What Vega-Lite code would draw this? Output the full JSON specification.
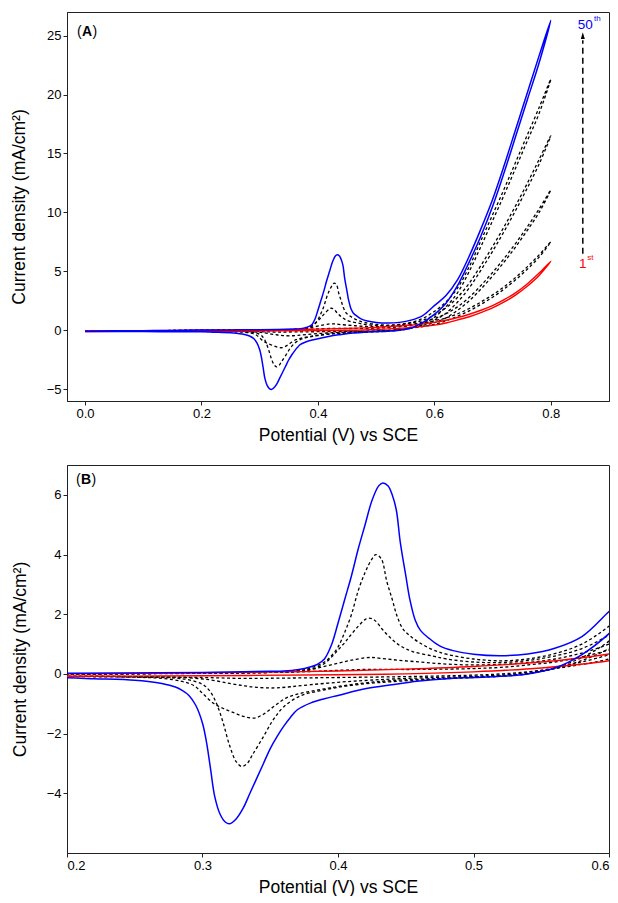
{
"$schema":"https://vega.github.io/schema/vega-lite/v6.json",
"padding":{"left":9,"top":11,"right":0,"bottom":0},
"spacing":20,
"config":{
"font":"Liberation Sans",
"view":{"stroke":"#222222","strokeWidth":1},
"axis":{"grid":false,"domainColor":"#222222","tickColor":"#222222","labelColor":"#000000","titleColor":"#000000","labelFontSize":13,"titleFontSize":17.5,"titleFontWeight":"normal","tickSize":4,"labelPadding":2,"domainWidth":1},
"axisX":{"titlePadding":6}
},
"datasets":{"cv":[
{"c":"b","E":0,"j":-0.08},{"c":"b","E":0.05,"j":-0.05},{"c":"b","E":0.1,"j":-0.03},{"c":"b","E":0.15,"j":-0.01},{"c":"b","E":0.2,"j":0.02},{"c":"b","E":0.25,"j":0.03},{"c":"b","E":0.3,"j":0.05},{"c":"b","E":0.33,"j":0.07},{"c":"b","E":0.35,"j":0.09},{"c":"b","E":0.36,"j":0.1},{"c":"b","E":0.37,"j":0.14},{"c":"b","E":0.38,"j":0.24},{"c":"b","E":0.385,"j":0.33},{"c":"b","E":0.39,"j":0.5},{"c":"b","E":0.395,"j":0.95},{"c":"b","E":0.4,"j":1.7},{"c":"b","E":0.405,"j":2.5},{"c":"b","E":0.41,"j":3.3},{"c":"b","E":0.415,"j":4.2},{"c":"b","E":0.42,"j":5.0},{"c":"b","E":0.425,"j":5.8},{"c":"b","E":0.43,"j":6.3},{"c":"b","E":0.433,"j":6.4},{"c":"b","E":0.437,"j":6.3},{"c":"b","E":0.44,"j":6.0},{"c":"b","E":0.443,"j":5.5},{"c":"b","E":0.446,"j":4.4},{"c":"b","E":0.45,"j":3.3},{"c":"b","E":0.453,"j":2.5},{"c":"b","E":0.457,"j":1.8},{"c":"b","E":0.461,"j":1.45},{"c":"b","E":0.467,"j":1.2},{"c":"b","E":0.475,"j":0.94},{"c":"b","E":0.485,"j":0.78},{"c":"b","E":0.5,"j":0.66},{"c":"b","E":0.52,"j":0.61},{"c":"b","E":0.54,"j":0.67},{"c":"b","E":0.56,"j":0.86},{"c":"b","E":0.58,"j":1.25},{"c":"b","E":0.6,"j":2.09},{"c":"b","E":0.62,"j":2.95},{"c":"b","E":0.64,"j":4.3},{"c":"b","E":0.66,"j":6.3},{"c":"b","E":0.68,"j":8.6},{"c":"b","E":0.7,"j":11.1},{"c":"b","E":0.72,"j":14.0},{"c":"b","E":0.74,"j":17.1},{"c":"b","E":0.76,"j":20.2},{"c":"b","E":0.78,"j":23.3},{"c":"b","E":0.8,"j":26.3},
{"c":"b","E":0.78,"j":22.7},{"c":"b","E":0.76,"j":19.6},{"c":"b","E":0.74,"j":16.5},{"c":"b","E":0.72,"j":13.4},{"c":"b","E":0.7,"j":10.5},{"c":"b","E":0.68,"j":8.0},{"c":"b","E":0.66,"j":5.8},{"c":"b","E":0.64,"j":3.8},{"c":"b","E":0.62,"j":2.3},{"c":"b","E":0.6,"j":1.35},{"c":"b","E":0.58,"j":0.65},{"c":"b","E":0.56,"j":0.2},{"c":"b","E":0.54,"j":0.0},{"c":"b","E":0.52,"j":-0.08},{"c":"b","E":0.5,"j":-0.12},{"c":"b","E":0.48,"j":-0.16},{"c":"b","E":0.46,"j":-0.24},{"c":"b","E":0.44,"j":-0.36},{"c":"b","E":0.42,"j":-0.5},{"c":"b","E":0.4,"j":-0.72},{"c":"b","E":0.39,"j":-0.83},{"c":"b","E":0.38,"j":-0.97},{"c":"b","E":0.37,"j":-1.2},{"c":"b","E":0.365,"j":-1.45},{"c":"b","E":0.36,"j":-1.75},{"c":"b","E":0.355,"j":-2.1},{"c":"b","E":0.35,"j":-2.5},{"c":"b","E":0.345,"j":-3.0},{"c":"b","E":0.34,"j":-3.5},{"c":"b","E":0.335,"j":-4.0},{"c":"b","E":0.33,"j":-4.5},{"c":"b","E":0.325,"j":-4.85},{"c":"b","E":0.32,"j":-5.02},{"c":"b","E":0.317,"j":-4.97},{"c":"b","E":0.313,"j":-4.7},{"c":"b","E":0.309,"j":-4.1},{"c":"b","E":0.306,"j":-3.2},{"c":"b","E":0.303,"j":-2.3},{"c":"b","E":0.3,"j":-1.65},{"c":"b","E":0.295,"j":-1.05},{"c":"b","E":0.29,"j":-0.72},{"c":"b","E":0.285,"j":-0.55},{"c":"b","E":0.28,"j":-0.44},{"c":"b","E":0.27,"j":-0.32},{"c":"b","E":0.26,"j":-0.25},{"c":"b","E":0.25,"j":-0.21},{"c":"b","E":0.22,"j":-0.16},{"c":"b","E":0.2,"j":-0.13},{"c":"b","E":0.15,"j":-0.12},{"c":"b","E":0.1,"j":-0.11},{"c":"b","E":0.05,"j":-0.1},{"c":"b","E":0,"j":-0.1},
{"c":"d4","E":0,"j":-0.08},{"c":"d4","E":0.1,"j":-0.04},{"c":"d4","E":0.2,"j":0.0},{"c":"d4","E":0.3,"j":0.03},{"c":"d4","E":0.35,"j":0.06},{"c":"d4","E":0.37,"j":0.1},{"c":"d4","E":0.38,"j":0.2},{"c":"d4","E":0.39,"j":0.4},{"c":"d4","E":0.395,"j":0.6},{"c":"d4","E":0.4,"j":0.9},{"c":"d4","E":0.405,"j":1.4},{"c":"d4","E":0.41,"j":2.0},{"c":"d4","E":0.415,"j":2.8},{"c":"d4","E":0.42,"j":3.4},{"c":"d4","E":0.425,"j":3.85},{"c":"d4","E":0.428,"j":4.0},{"c":"d4","E":0.432,"j":3.85},{"c":"d4","E":0.436,"j":3.1},{"c":"d4","E":0.44,"j":2.5},{"c":"d4","E":0.4435,"j":1.95},{"c":"d4","E":0.448,"j":1.5},{"c":"d4","E":0.453,"j":1.28},{"c":"d4","E":0.46,"j":1.05},{"c":"d4","E":0.47,"j":0.81},{"c":"d4","E":0.48,"j":0.66},{"c":"d4","E":0.5,"j":0.5},{"c":"d4","E":0.52,"j":0.44},{"c":"d4","E":0.54,"j":0.5},{"c":"d4","E":0.56,"j":0.68},{"c":"d4","E":0.58,"j":1.0},{"c":"d4","E":0.6,"j":1.6},{"c":"d4","E":0.62,"j":2.4},{"c":"d4","E":0.64,"j":3.6},{"c":"d4","E":0.66,"j":5.4},{"c":"d4","E":0.68,"j":7.6},{"c":"d4","E":0.7,"j":9.8},{"c":"d4","E":0.72,"j":12.0},{"c":"d4","E":0.74,"j":14.3},{"c":"d4","E":0.76,"j":16.6},{"c":"d4","E":0.78,"j":18.9},{"c":"d4","E":0.8,"j":21.3},
{"c":"d4","E":0.78,"j":18.4},{"c":"d4","E":0.76,"j":16.1},{"c":"d4","E":0.74,"j":13.8},{"c":"d4","E":0.72,"j":11.5},{"c":"d4","E":0.7,"j":9.3},{"c":"d4","E":0.68,"j":7.1},{"c":"d4","E":0.66,"j":5.0},{"c":"d4","E":0.64,"j":3.2},{"c":"d4","E":0.62,"j":2.0},{"c":"d4","E":0.6,"j":1.1},{"c":"d4","E":0.58,"j":0.55},{"c":"d4","E":0.56,"j":0.2},{"c":"d4","E":0.54,"j":0.0},{"c":"d4","E":0.52,"j":-0.08},{"c":"d4","E":0.5,"j":-0.12},{"c":"d4","E":0.47,"j":-0.18},{"c":"d4","E":0.44,"j":-0.26},{"c":"d4","E":0.42,"j":-0.33},{"c":"d4","E":0.4,"j":-0.45},{"c":"d4","E":0.385,"j":-0.58},{"c":"d4","E":0.372,"j":-0.74},{"c":"d4","E":0.36,"j":-1.1},{"c":"d4","E":0.352,"j":-1.55},{"c":"d4","E":0.345,"j":-2.1},{"c":"d4","E":0.337,"j":-2.7},{"c":"d4","E":0.333,"j":-3.0},{"c":"d4","E":0.329,"j":-3.1},{"c":"d4","E":0.325,"j":-2.95},{"c":"d4","E":0.32,"j":-2.4},{"c":"d4","E":0.315,"j":-1.6},{"c":"d4","E":0.31,"j":-0.95},{"c":"d4","E":0.305,"j":-0.55},{"c":"d4","E":0.3,"j":-0.35},{"c":"d4","E":0.29,"j":-0.2},{"c":"d4","E":0.28,"j":-0.14},{"c":"d4","E":0.25,"j":-0.1},{"c":"d4","E":0.2,"j":-0.08},{"c":"d4","E":0.1,"j":-0.08},{"c":"d4","E":0,"j":-0.08},
{"c":"d3","E":0,"j":-0.08},{"c":"d3","E":0.1,"j":-0.05},{"c":"d3","E":0.2,"j":-0.01},{"c":"d3","E":0.3,"j":0.03},{"c":"d3","E":0.35,"j":0.05},{"c":"d3","E":0.37,"j":0.08},{"c":"d3","E":0.38,"j":0.15},{"c":"d3","E":0.39,"j":0.35},{"c":"d3","E":0.396,"j":0.6},{"c":"d3","E":0.4,"j":0.8},{"c":"d3","E":0.405,"j":1.05},{"c":"d3","E":0.409,"j":1.28},{"c":"d3","E":0.415,"j":1.6},{"c":"d3","E":0.42,"j":1.82},{"c":"d3","E":0.423,"j":1.87},{"c":"d3","E":0.427,"j":1.8},{"c":"d3","E":0.433,"j":1.48},{"c":"d3","E":0.44,"j":1.15},{"c":"d3","E":0.446,"j":0.94},{"c":"d3","E":0.455,"j":0.75},{"c":"d3","E":0.47,"j":0.6},{"c":"d3","E":0.48,"j":0.5},{"c":"d3","E":0.5,"j":0.4},{"c":"d3","E":0.52,"j":0.38},{"c":"d3","E":0.54,"j":0.45},{"c":"d3","E":0.56,"j":0.6},{"c":"d3","E":0.58,"j":0.85},{"c":"d3","E":0.6,"j":1.3},{"c":"d3","E":0.62,"j":1.9},{"c":"d3","E":0.64,"j":2.8},{"c":"d3","E":0.66,"j":4.0},{"c":"d3","E":0.68,"j":5.5},{"c":"d3","E":0.7,"j":7.1},{"c":"d3","E":0.72,"j":8.8},{"c":"d3","E":0.74,"j":10.6},{"c":"d3","E":0.76,"j":12.5},{"c":"d3","E":0.78,"j":14.5},{"c":"d3","E":0.8,"j":16.5},
{"c":"d3","E":0.78,"j":14.1},{"c":"d3","E":0.76,"j":12.1},{"c":"d3","E":0.74,"j":10.2},{"c":"d3","E":0.72,"j":8.4},{"c":"d3","E":0.7,"j":6.7},{"c":"d3","E":0.68,"j":5.1},{"c":"d3","E":0.66,"j":3.6},{"c":"d3","E":0.64,"j":2.4},{"c":"d3","E":0.62,"j":1.45},{"c":"d3","E":0.6,"j":0.85},{"c":"d3","E":0.58,"j":0.45},{"c":"d3","E":0.56,"j":0.18},{"c":"d3","E":0.54,"j":0.02},{"c":"d3","E":0.52,"j":-0.06},{"c":"d3","E":0.5,"j":-0.1},{"c":"d3","E":0.47,"j":-0.16},{"c":"d3","E":0.44,"j":-0.22},{"c":"d3","E":0.42,"j":-0.3},{"c":"d3","E":0.4,"j":-0.42},{"c":"d3","E":0.39,"j":-0.5},{"c":"d3","E":0.38,"j":-0.58},{"c":"d3","E":0.37,"j":-0.68},{"c":"d3","E":0.362,"j":-0.8},{"c":"d3","E":0.353,"j":-1.08},{"c":"d3","E":0.345,"j":-1.35},{"c":"d3","E":0.338,"j":-1.48},{"c":"d3","E":0.33,"j":-1.42},{"c":"d3","E":0.323,"j":-1.3},{"c":"d3","E":0.315,"j":-1.15},{"c":"d3","E":0.308,"j":-0.98},{"c":"d3","E":0.3,"j":-0.65},{"c":"d3","E":0.294,"j":-0.4},{"c":"d3","E":0.285,"j":-0.25},{"c":"d3","E":0.27,"j":-0.15},{"c":"d3","E":0.25,"j":-0.11},{"c":"d3","E":0.2,"j":-0.09},{"c":"d3","E":0.1,"j":-0.08},{"c":"d3","E":0,"j":-0.08},
{"c":"d2","E":0,"j":-0.07},{"c":"d2","E":0.1,"j":-0.04},{"c":"d2","E":0.2,"j":-0.01},{"c":"d2","E":0.3,"j":0.02},{"c":"d2","E":0.35,"j":0.05},{"c":"d2","E":0.37,"j":0.1},{"c":"d2","E":0.38,"j":0.15},{"c":"d2","E":0.39,"j":0.25},{"c":"d2","E":0.4,"j":0.36},{"c":"d2","E":0.41,"j":0.46},{"c":"d2","E":0.42,"j":0.54},{"c":"d2","E":0.425,"j":0.55},{"c":"d2","E":0.43,"j":0.53},{"c":"d2","E":0.44,"j":0.48},{"c":"d2","E":0.46,"j":0.4},{"c":"d2","E":0.48,"j":0.33},{"c":"d2","E":0.5,"j":0.3},{"c":"d2","E":0.52,"j":0.32},{"c":"d2","E":0.54,"j":0.38},{"c":"d2","E":0.56,"j":0.5},{"c":"d2","E":0.58,"j":0.7},{"c":"d2","E":0.6,"j":1.0},{"c":"d2","E":0.62,"j":1.4},{"c":"d2","E":0.64,"j":2.0},{"c":"d2","E":0.66,"j":2.8},{"c":"d2","E":0.68,"j":3.8},{"c":"d2","E":0.7,"j":4.9},{"c":"d2","E":0.72,"j":6.1},{"c":"d2","E":0.74,"j":7.4},{"c":"d2","E":0.76,"j":8.8},{"c":"d2","E":0.78,"j":10.3},{"c":"d2","E":0.8,"j":11.9},
{"c":"d2","E":0.78,"j":10.0},{"c":"d2","E":0.76,"j":8.5},{"c":"d2","E":0.74,"j":7.1},{"c":"d2","E":0.72,"j":5.8},{"c":"d2","E":0.7,"j":4.6},{"c":"d2","E":0.68,"j":3.5},{"c":"d2","E":0.66,"j":2.5},{"c":"d2","E":0.64,"j":1.7},{"c":"d2","E":0.62,"j":1.05},{"c":"d2","E":0.6,"j":0.65},{"c":"d2","E":0.58,"j":0.4},{"c":"d2","E":0.56,"j":0.2},{"c":"d2","E":0.54,"j":0.05},{"c":"d2","E":0.52,"j":-0.04},{"c":"d2","E":0.5,"j":-0.08},{"c":"d2","E":0.47,"j":-0.12},{"c":"d2","E":0.44,"j":-0.17},{"c":"d2","E":0.42,"j":-0.22},{"c":"d2","E":0.4,"j":-0.28},{"c":"d2","E":0.38,"j":-0.36},{"c":"d2","E":0.365,"j":-0.43},{"c":"d2","E":0.353,"j":-0.47},{"c":"d2","E":0.34,"j":-0.45},{"c":"d2","E":0.331,"j":-0.4},{"c":"d2","E":0.32,"j":-0.32},{"c":"d2","E":0.306,"j":-0.2},{"c":"d2","E":0.29,"j":-0.13},{"c":"d2","E":0.27,"j":-0.1},{"c":"d2","E":0.2,"j":-0.08},{"c":"d2","E":0.1,"j":-0.08},{"c":"d2","E":0,"j":-0.08},
{"c":"d1","E":0,"j":-0.06},{"c":"d1","E":0.1,"j":-0.03},{"c":"d1","E":0.2,"j":-0.01},{"c":"d1","E":0.3,"j":0.03},{"c":"d1","E":0.35,"j":0.05},{"c":"d1","E":0.38,"j":0.08},{"c":"d1","E":0.4,"j":0.12},{"c":"d1","E":0.42,"j":0.15},{"c":"d1","E":0.44,"j":0.15},{"c":"d1","E":0.46,"j":0.15},{"c":"d1","E":0.5,"j":0.18},{"c":"d1","E":0.52,"j":0.22},{"c":"d1","E":0.54,"j":0.3},{"c":"d1","E":0.56,"j":0.4},{"c":"d1","E":0.58,"j":0.57},{"c":"d1","E":0.6,"j":0.8},{"c":"d1","E":0.62,"j":1.05},{"c":"d1","E":0.64,"j":1.4},{"c":"d1","E":0.66,"j":1.85},{"c":"d1","E":0.68,"j":2.4},{"c":"d1","E":0.7,"j":3.0},{"c":"d1","E":0.72,"j":3.7},{"c":"d1","E":0.74,"j":4.5},{"c":"d1","E":0.76,"j":5.4},{"c":"d1","E":0.78,"j":6.4},{"c":"d1","E":0.8,"j":7.5},
{"c":"d1","E":0.78,"j":6.2},{"c":"d1","E":0.76,"j":5.2},{"c":"d1","E":0.74,"j":4.3},{"c":"d1","E":0.72,"j":3.5},{"c":"d1","E":0.7,"j":2.8},{"c":"d1","E":0.68,"j":2.2},{"c":"d1","E":0.66,"j":1.65},{"c":"d1","E":0.64,"j":1.2},{"c":"d1","E":0.62,"j":0.8},{"c":"d1","E":0.6,"j":0.5},{"c":"d1","E":0.58,"j":0.32},{"c":"d1","E":0.56,"j":0.18},{"c":"d1","E":0.54,"j":0.07},{"c":"d1","E":0.52,"j":0.0},{"c":"d1","E":0.5,"j":-0.04},{"c":"d1","E":0.45,"j":-0.09},{"c":"d1","E":0.4,"j":-0.12},{"c":"d1","E":0.36,"j":-0.14},{"c":"d1","E":0.33,"j":-0.15},{"c":"d1","E":0.3,"j":-0.12},{"c":"d1","E":0.25,"j":-0.09},{"c":"d1","E":0.2,"j":-0.08},{"c":"d1","E":0.1,"j":-0.08},{"c":"d1","E":0,"j":-0.08},
{"c":"r","E":0,"j":-0.05},{"c":"r","E":0.1,"j":-0.03},{"c":"r","E":0.2,"j":0.0},{"c":"r","E":0.3,"j":0.04},{"c":"r","E":0.35,"j":0.06},{"c":"r","E":0.4,"j":0.1},{"c":"r","E":0.45,"j":0.16},{"c":"r","E":0.5,"j":0.25},{"c":"r","E":0.55,"j":0.4},{"c":"r","E":0.6,"j":0.67},{"c":"r","E":0.62,"j":0.85},{"c":"r","E":0.64,"j":1.08},{"c":"r","E":0.66,"j":1.36},{"c":"r","E":0.68,"j":1.7},{"c":"r","E":0.7,"j":2.1},{"c":"r","E":0.72,"j":2.6},{"c":"r","E":0.74,"j":3.2},{"c":"r","E":0.76,"j":3.95},{"c":"r","E":0.78,"j":4.85},{"c":"r","E":0.8,"j":5.85},
{"c":"r","E":0.78,"j":4.65},{"c":"r","E":0.76,"j":3.75},{"c":"r","E":0.74,"j":3.0},{"c":"r","E":0.72,"j":2.4},{"c":"r","E":0.7,"j":1.9},{"c":"r","E":0.68,"j":1.5},{"c":"r","E":0.66,"j":1.15},{"c":"r","E":0.64,"j":0.88},{"c":"r","E":0.62,"j":0.62},{"c":"r","E":0.6,"j":0.44},{"c":"r","E":0.55,"j":0.2},{"c":"r","E":0.5,"j":0.07},{"c":"r","E":0.45,"j":0.0},{"c":"r","E":0.4,"j":-0.03},{"c":"r","E":0.3,"j":-0.06},{"c":"r","E":0.2,"j":-0.08},{"c":"r","E":0.1,"j":-0.09},{"c":"r","E":0,"j":-0.1}
]},
"vconcat":[
{
"width":542,"height":389,
"encoding":{
"x":{"field":"E","type":"quantitative","scale":{"domain":[-0.031,0.9],"nice":false,"zero":false},"axis":{"values":[0,0.2,0.4,0.6,0.8],"format":".1f","title":"Potential (V) vs SCE"}},
"y":{"field":"j","type":"quantitative","scale":{"domain":[-6,27],"nice":false,"zero":false},"axis":{"values":[-5,0,5,10,15,20,25],"format":"d","title":"Current density (mA/cm²)","titlePadding":18}}
},
"layer":[
{"data":{"name":"cv"},"transform":[{"filter":{"field":"c","oneOf":["d1","d2","d3","d4"]}}],"mark":{"type":"line","color":"#000000","strokeWidth":1.3,"strokeDash":[3,2.5],"interpolate":"catmull-rom","clip":true},"encoding":{"detail":{"field":"c"},"order":{"value":null}}},
{"data":{"name":"cv"},"transform":[{"filter":{"field":"c","equal":"r"}}],"mark":{"type":"line","color":"#ff0000","strokeWidth":1.4,"interpolate":"catmull-rom","clip":true},"encoding":{"order":{"value":null}}},
{"data":{"name":"cv"},"transform":[{"filter":{"field":"c","equal":"b"}}],"mark":{"type":"line","color":"#0000ff","strokeWidth":1.5,"interpolate":"catmull-rom","clip":true},"encoding":{"order":{"value":null}}},
{"data":{"values":[{"E":0.855,"j":6.5,"j2":24.6}]},"mark":{"type":"rule","color":"#000000","strokeWidth":1.5,"strokeDash":[6,4]},"encoding":{"y2":{"field":"j2"}}},
{"data":{"values":[{"E":0.855,"j":25.0}]},"mark":{"type":"point","shape":"M-0.6,1L0,-1L0.6,1Z","filled":true,"opacity":1,"color":"#000000","size":45},"encoding":{}},
{"data":{"values":[{"E":0.8592,"j":25.9,"t":"50"}]},"mark":{"type":"text","color":"#0000ff","fontSize":13.5,"align":"center","baseline":"middle"},"encoding":{"text":{"field":"t"}}},
{"data":{"values":[{"E":0.8798,"j":26.4,"t":"th"}]},"mark":{"type":"text","color":"#0000ff","fontSize":8,"align":"center","baseline":"middle"},"encoding":{"text":{"field":"t"}}},
{"data":{"values":[{"E":0.855,"j":5.6,"t":"1"}]},"mark":{"type":"text","color":"#ff0000","fontSize":13.5,"align":"center","baseline":"middle"},"encoding":{"text":{"field":"t"}}},
{"data":{"values":[{"E":0.868,"j":6.1,"t":"st"}]},"mark":{"type":"text","color":"#ff0000","fontSize":8,"align":"center","baseline":"middle"},"encoding":{"text":{"field":"t"}}},
{"data":{"values":[{"E":-0.0138,"j":25.3,"t":"("},{"E":0.0128,"j":25.3,"t":")"}]},"mark":{"type":"text","color":"#000000","fontSize":14,"align":"left","baseline":"middle"},"encoding":{"text":{"field":"t"}}},
{"data":{"values":[{"E":-0.0052,"j":25.3,"t":"A"}]},"mark":{"type":"text","color":"#000000","fontSize":14,"fontWeight":"bold","align":"left","baseline":"middle"},"encoding":{"text":{"field":"t"}}}
]
},
{
"width":542,"height":388,
"encoding":{
"x":{"field":"E","type":"quantitative","scale":{"domain":[0.2,0.6],"nice":false,"zero":false},"axis":{"values":[0.2,0.3,0.4,0.5,0.6],"format":".1f","title":"Potential (V) vs SCE"}},
"y":{"field":"j","type":"quantitative","scale":{"domain":[-6,7],"nice":false,"zero":false},"axis":{"values":[-4,-2,0,2,4,6],"format":"d","title":"Current density (mA/cm²)","titlePadding":16.5}}
},
"layer":[
{"data":{"name":"cv"},"transform":[{"filter":{"field":"c","oneOf":["d1","d2","d3","d4"]}}],"mark":{"type":"line","color":"#000000","strokeWidth":1.3,"strokeDash":[3,2.5],"interpolate":"catmull-rom","clip":true},"encoding":{"detail":{"field":"c"},"order":{"value":null}}},
{"data":{"name":"cv"},"transform":[{"filter":{"field":"c","equal":"r"}}],"mark":{"type":"line","color":"#ff0000","strokeWidth":1.4,"interpolate":"catmull-rom","clip":true},"encoding":{"order":{"value":null}}},
{"data":{"name":"cv"},"transform":[{"filter":{"field":"c","equal":"b"}}],"mark":{"type":"line","color":"#0000ff","strokeWidth":1.5,"interpolate":"catmull-rom","clip":true},"encoding":{"order":{"value":null}}},
{"data":{"values":[{"E":0.2066,"j":6.5,"t":"("},{"E":0.2181,"j":6.5,"t":")"}]},"mark":{"type":"text","color":"#000000","fontSize":14,"align":"left","baseline":"middle"},"encoding":{"text":{"field":"t"}}},
{"data":{"values":[{"E":0.2103,"j":6.5,"t":"B"}]},"mark":{"type":"text","color":"#000000","fontSize":14,"fontWeight":"bold","align":"left","baseline":"middle"},"encoding":{"text":{"field":"t"}}}
]
}
]
}
